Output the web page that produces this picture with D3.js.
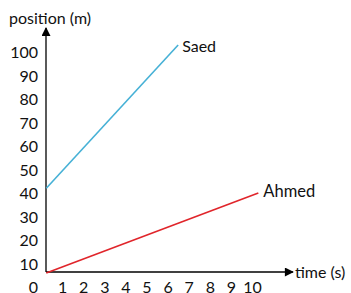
<!DOCTYPE html>
<html>
<head>
<meta charset="utf-8">
<script src="https://cdn.jsdelivr.net/npm/d3@7"></script>
<style>
  body { margin: 0; background: #fff; }
  text { font-family: Lato, "Open Sans", sans-serif; fill: #111; }
</style>
</head>
<body>
<svg></svg>
<script>
var width = 351;
var height = 293;

// tick labels
var timeTicks = [1, 2, 3, 4, 5, 6, 7, 8, 9, 10];
var posTicks = [0, 10, 20, 30, 40, 50, 60, 70, 80, 90, 100];

// series (time s, position m)
var ahmedT = [0.25, 10.3];
var ahmedP = [6, 40];
var saedT = [0.25, 6.5];
var saedP = [42, 103];

var svg = d3.select("svg")
              .attr("width", width)
              .attr("height", height);

var x = d3.scaleLinear().domain([0, 10]).range([41, 252]);
var y = d3.scaleLinear().domain([0, 100]).range([287, 52]);

var originX = 46, originY = 272;

// arrow head
svg.append("defs").append("marker")
    .attr("id", "arrow")
    .attr("viewBox", "0 0 10 10")
    .attr("refX", 9).attr("refY", 5)
    .attr("markerWidth", 12).attr("markerHeight", 9)
    .attr("markerUnits", "userSpaceOnUse")
    .attr("orient", "auto")
  .append("path")
    .attr("d", "M0,0 L10,5 L0,10 z")
    .attr("fill", "#000");

// axes lines
svg.append("line")
    .attr("x1", originX).attr("y1", originY)
    .attr("x2", originX).attr("y2", 28)
    .attr("stroke", "#000").attr("stroke-width", 1.3)
    .attr("marker-end", "url(#arrow)");

svg.append("line")
    .attr("x1", originX).attr("y1", originY)
    .attr("x2", 293).attr("y2", originY)
    .attr("stroke", "#000").attr("stroke-width", 1.3)
    .attr("marker-end", "url(#arrow)");

// y tick labels
var yAxis = d3.axisLeft(y).tickValues(posTicks).tickSize(0).tickPadding(0);
var gy = svg.append("g").attr("transform", "translate(38,0)").call(yAxis);
gy.select(".domain").remove();
gy.selectAll("text").style("font-size", "16px").attr("dy", "0.35em");

// x tick labels
var xAxis = d3.axisBottom(x).tickValues(timeTicks).tickSize(0).tickPadding(0);
var gx = svg.append("g").attr("transform", "translate(0,281)").call(xAxis);
gx.select(".domain").remove();
gx.selectAll("text").style("font-size", "16px").attr("dy", "0.75em");

// axis titles
svg.append("text").attr("x", 9).attr("y", 24)
    .style("font-size", "16px").text("position (m)");
svg.append("text").attr("x", 295).attr("y", 278)
    .style("font-size", "16px").text("time (s)");

// series lines
var line = d3.line().x(d => x(d[0])).y(d => y(d[1]));

svg.append("path")
    .datum(d3.zip(ahmedT, ahmedP))
    .attr("d", line)
    .attr("fill", "none")
    .attr("stroke", "#e0252b")
    .attr("stroke-width", 1.6);

svg.append("path")
    .datum(d3.zip(saedT, saedP))
    .attr("d", line)
    .attr("fill", "none")
    .attr("stroke", "#46b1d6")
    .attr("stroke-width", 1.6);

// series labels
svg.append("text").attr("x", x(10.3) + 5).attr("y", y(40) + 4)
    .style("font-size", "16.5px").text("Ahmed");
svg.append("text").attr("x", x(6.5) + 4).attr("y", y(103) + 7)
    .style("font-size", "16px").text("Saed");
</script>
</body>
</html>
